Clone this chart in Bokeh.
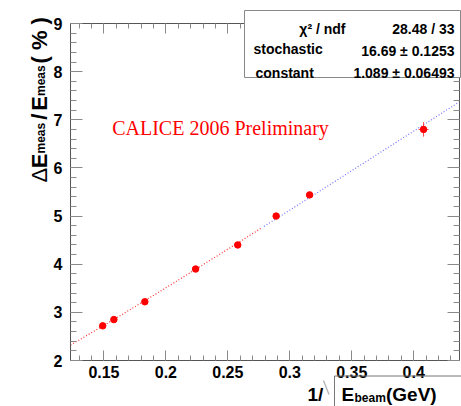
import numpy as np
from bokeh.plotting import figure
from bokeh.models import (Label, BoxAnnotation, PolyAnnotation, LinearAxis,
                          FixedTicker, SingleIntervalTicker, Range1d)
from bokeh.embed import file_html
from bokeh.resources import INLINE

# ---------------- data ----------------
inv_sqrt_ebeam = [0.149, 0.158, 0.183, 0.224, 0.258, 0.289, 0.316, 0.408]
resolution = [2.72, 2.85, 3.22, 3.90, 4.40, 5.00, 5.44, 6.80]
resolution_err = [0.03, 0.03, 0.03, 0.04, 0.04, 0.05, 0.05, 0.15]
x_err = [0.001, 0.001, 0.001, 0.001, 0.001, 0.002, 0.002, 0.004]

# fit result shown in the stats box
chi2_ndf = "28.48 / 33"
stoch, stoch_err = 16.69, 0.1253
const, const_err = 1.089, 0.06493
fit_split = 0.278          # colour of the fit curve changes here (red -> blue)

x_ticks = [0.15, 0.2, 0.25, 0.3, 0.35, 0.4]
x_tick_labels = ["0.15", "0.2", "0.25", "0.3", "0.35", "0.4"]
x_minor = [round(v, 2) for v in np.arange(0.13, 0.44, 0.01)]

X_AXIS = (0.123, 0.437)    # axis extent
Y_AXIS = (2, 9)

# ---------------- layout (pixels) ----------------
W, H = 461, 406
PX_L, PX_R = 70, 459       # plot area in page pixels
PY_T, PY_B = 23, 360
sx = (PX_R - PX_L) / (X_AXIS[1] - X_AXIS[0])
sy = (PY_B - PY_T) / (Y_AXIS[1] - Y_AXIS[0])
x_lo = X_AXIS[0] - PX_L / sx
x_hi = X_AXIS[1] + (W - PX_R) / sx
y_lo = Y_AXIS[0] - (H - PY_B) / sy
y_hi = Y_AXIS[1] + PY_T / sy

p = figure(width=W, height=H, output_backend="svg", toolbar_location=None,
           x_range=Range1d(x_lo, x_hi), y_range=Range1d(y_lo, y_hi),
           x_axis_location=None, y_axis_location=None, min_border=0)
p.grid.visible = False
p.outline_line_color = None
p.background_fill_color = "white"
p.border_fill_color = "white"

AX = "#555555"
TK = "#8a8a8a"
FONT = "Liberation Sans"


def make_axis(side, ticker, loc, bounds, major_in, minor_in, labels, **kw):
    ax = LinearAxis(ticker=ticker, fixed_location=loc, bounds=bounds, **kw)
    ax.major_tick_in = major_in
    ax.major_tick_out = 0
    ax.minor_tick_in = minor_in
    ax.minor_tick_out = 0
    ax.axis_line_color = AX
    ax.major_tick_line_color = TK
    ax.minor_tick_line_color = TK
    if labels:
        ax.major_label_text_font = FONT
        ax.major_label_text_font_style = "bold"
        ax.major_label_text_font_size = "16px"
        ax.major_label_text_color = "black"
    else:
        ax.major_label_text_color = None
    p.add_layout(ax, side)
    return ax


bx = make_axis("below", FixedTicker(ticks=x_ticks, minor_ticks=x_minor), Y_AXIS[0],
               X_AXIS, 10, 5, True, major_label_overrides=dict(zip(x_ticks, x_tick_labels)))
bx.major_label_standoff = 5
ly = make_axis("left", SingleIntervalTicker(interval=1, num_minor_ticks=5), X_AXIS[0],
               Y_AXIS, 12, 6, True)
ly.major_label_standoff = 8
make_axis("above", FixedTicker(ticks=x_ticks, minor_ticks=x_minor), Y_AXIS[1],
          X_AXIS, 10, 5, False)
make_axis("right", SingleIntervalTicker(interval=1, num_minor_ticks=5), X_AXIS[1],
          Y_AXIS, 12, 6, False)

# ---------------- fit curve ----------------
fx = np.linspace(X_AXIS[0], X_AXIS[1], 200)
fy = np.sqrt((stoch * fx) ** 2 + const ** 2)
lo = fx <= fit_split
hi = fx >= fit_split
p.line(fx[lo], fy[lo], line_color="#ff3030", line_dash="1 2", line_width=1.2)
p.line(fx[hi], fy[hi], line_color="#7070ff", line_dash="1 2", line_width=1.2)

# ---------------- data points with error bars ----------------
xs = np.array(inv_sqrt_ebeam)
ys = np.array(resolution)
ye = np.array(resolution_err)
xe = np.array(x_err)
p.segment(xs, ys - ye, xs, ys + ye, line_color="#ff4040", line_width=1)
p.segment(xs - xe, ys, xs + xe, ys, line_color="#ff4040", line_width=1)
p.scatter(xs, ys, size=6.5, fill_color="#ff0000", line_color="#ff0000")


# ---------------- texts (canvas px) ----------------
def lab(x, y, text, size, style="bold", font=FONT, align="left", color="black",
        angle=0.0, baseline="alphabetic"):
    p.add_layout(Label(x=x, y=y, x_units="canvas", y_units="canvas",
                       text=text, text_font=font, text_font_size=f"{size}px",
                       text_font_style=style, text_color=color, text_align=align,
                       text_baseline=baseline, angle=angle))


# CALICE label
lab(111.7, 127.3, "CALICE 2006 Preliminary", 20, style="normal",
    font="Liberation Serif", color="#ff0000")

# Y axis title (rotated, built from pieces)
ang = np.pi / 2
BX = 38.5      # main baseline (page x)
SX = 40.0      # subscript baseline
y_pieces = [  # (text, size, style, baseline x, start y)
    ("Δ", 22, "normal", BX, 182.0),
    ("E", 22, "bold", BX, 167.7),
    ("meas", 12, "bold", SX, 153.0),
    ("/", 22, "bold", BX, 119.3),
    ("E", 22, "bold", BX, 110.2),
    ("meas", 12, "bold", SX, 95.5),
    ("( % )", 22, "bold", BX, 63.0),
]
for t, s, st, bxp, syp in y_pieces:
    lab(bxp, syp, t, s, style=st, angle=ang)

# X axis title: 1/sqrt(E_beam(GeV))
XB = 394       # main baseline
lab(307, XB, "1/", 19)
p.add_layout(PolyAnnotation(xs=[323, 328.5], ys=[380, 394],
                            xs_units="canvas", ys_units="canvas",
                            fill_color=None, line_color="black", line_width=1.3))
p.add_layout(BoxAnnotation(left=334, right=480, top=375.5, bottom=430,
                           left_units="canvas", right_units="canvas",
                           top_units="canvas", bottom_units="canvas",
                           fill_color=None, fill_alpha=0, line_color="#777777",
                           line_width=1, line_alpha=1))
lab(341, XB, "E", 19)
lab(354, XB + 3.5, "beam", 12)
lab(385.5, XB, "(GeV)", 19)

# stats box
p.add_layout(BoxAnnotation(left=244, right=460, top=10, bottom=77,
                           left_units="canvas", right_units="canvas",
                           top_units="canvas", bottom_units="canvas",
                           fill_color="white", fill_alpha=1, line_color="#888888",
                           line_width=1, line_alpha=1))
lab(345, 28, "χ² / ndf", 14, align="right")
lab(454, 28, chi2_ndf, 14, align="right")
lab(253, 48.5, "stochastic", 14)
lab(454, 50, f"{stoch} ± {stoch_err}", 14, align="right")
lab(255, 72, "constant", 14)
lab(454, 72, f"{const} ± {const_err}", 14, align="right")

open("out.html", "w").write(file_html(p, INLINE))
